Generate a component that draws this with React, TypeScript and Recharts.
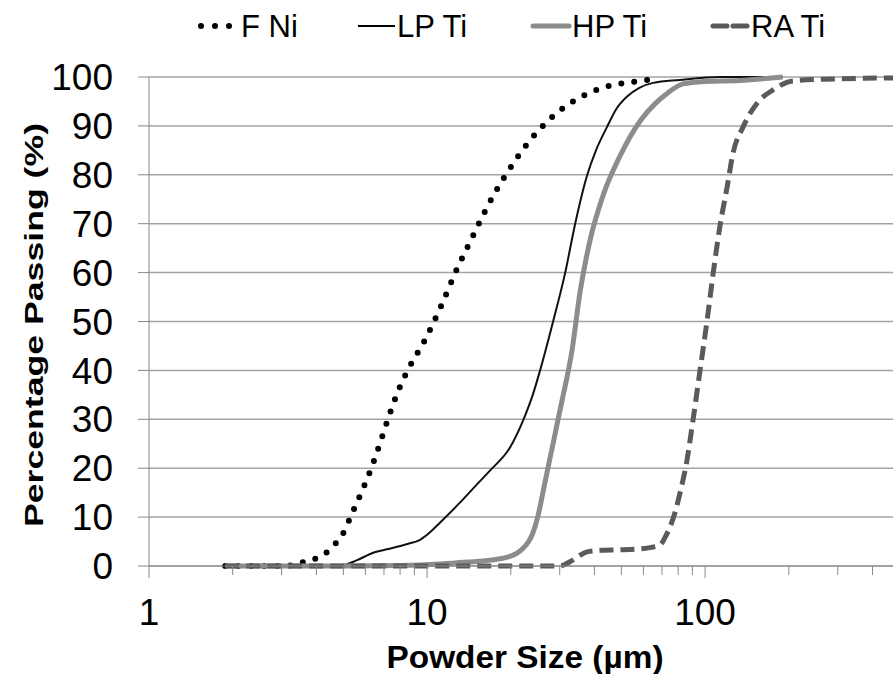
import { LineChart, Line, XAxis, YAxis, CartesianGrid } from "recharts";

// particle size (µm) and cumulative % passing
const fniSize = [1.88, 2.5, 3.0, 3.3, 3.6, 4.0, 4.4, 4.75, 5.07, 5.3, 5.8, 6.3, 6.8, 7.3, 7.9, 8.7, 9.7, 11.2, 12.8, 14.2, 15.6, 17.3, 19.4, 22, 25.5, 29.8, 36, 44, 55, 66];
const fniPassing = [0, 0, 0, 0.2, 0.8, 1.6, 3, 5, 7.4, 10, 15, 20, 25.4, 30.7, 36, 41, 45.6, 53, 60.7, 66, 70.8, 75.7, 80.4, 85, 89.4, 93, 96, 98, 99, 99.6];

const lpSize = [1.88, 4.0, 5.0, 5.6, 6.4, 7.5, 8.5, 9.4, 10.2, 11.1, 13.1, 15, 16.9, 19.9, 22.2, 24, 25.5, 28.4, 31.4, 34.1, 37.6, 40.5, 44.4, 48, 52.4, 58, 65, 81, 113, 190];
const lpPassing = [0, 0, 0.2, 1.2, 2.7, 3.7, 4.5, 5.3, 6.8, 8.8, 12.9, 16.5, 19.6, 24.3, 29.9, 35, 40, 50, 60, 70, 79.8, 85, 89.8, 93.5, 96, 97.8, 98.8, 99.4, 100, 100];

const hpSize = [1.88, 5, 8, 11.1, 14, 16.9, 19.4, 21, 22.2, 23.2, 24, 25, 26.1, 27.2, 28.4, 29.6, 30.9, 33.2, 35.5, 38.6, 43.1, 49.2, 58.4, 66, 73.2, 83.3, 100, 133, 190];
const hpPassing = [0, 0, 0.1, 0.4, 0.8, 1.2, 1.8, 2.6, 3.7, 5, 6.7, 10, 15, 20, 25, 30, 35, 44, 56, 66.7, 76, 83.6, 91, 94.5, 96.7, 98.6, 99.1, 99.3, 100];

const raSize = [1.88, 30, 33, 37.6, 42, 49, 58, 64, 68.9, 72, 74.8, 78, 81.3, 86.1, 90.5, 95.9, 101.7, 107, 113, 120, 126, 137, 154, 176, 207, 289, 474];
const raPassing = [0, 0, 1, 2.9, 3.2, 3.3, 3.5, 3.8, 4.3, 6, 8, 11, 15, 21.7, 29.9, 40, 50.3, 60, 69.4, 77.5, 84.4, 89.8, 94.7, 97.4, 99.2, 99.6, 99.8];

const xTicks = [1, 2, 3, 4, 5, 6, 7, 8, 9, 10, 20, 30, 40, 50, 60, 70, 80, 90, 100, 200, 300, 400];
const xLabels = [1, 10, 100];
const yTicks = [0, 10, 20, 30, 40, 50, 60, 70, 80, 90, 100];

const toPoints = (xs: number[], ys: number[]) => xs.map((x, i) => ({ x, y: ys[i] }));

const FONT = "'Liberation Sans', Arial, sans-serif";
const AXIS = "#888888";

function SizeTick({ x, y, payload }: any) {
  const major = xLabels.includes(payload.value);
  return (
    <g>
      <line x1={x} x2={x} y1={y} y2={y + (major ? 12 : 9)} stroke={AXIS} />
      {major && (
        <text x={x} y={625} textAnchor="middle" fontSize={37} fontFamily={FONT} fill="#000">
          {payload.value}
        </text>
      )}
    </g>
  );
}

function LegendRow() {
  const txt = { fontSize: 31, fontFamily: FONT, fill: "#000" };
  return (
    <svg width={893} height={50} style={{ position: "absolute", left: 0, top: 0 }}>
      <line x1={201} x2={230} y1={26} y2={26} stroke="#000" strokeWidth={6} strokeDasharray="0 14" strokeLinecap="round" />
      <text x={241} y={37} {...txt}>F Ni</text>
      <line x1={358} x2={395} y1={26} y2={26} stroke="#000" strokeWidth={2} />
      <text x={397} y={37} {...txt}>LP Ti</text>
      <line x1={533} x2={569} y1={26} y2={26} stroke="#8c8c8c" strokeWidth={5} strokeLinecap="round" />
      <text x={572} y={37} {...txt}>HP Ti</text>
      <line x1={713} x2={748} y1={26} y2={26} stroke="#5a5a5a" strokeWidth={5} strokeDasharray="14 6" strokeLinecap="round" />
      <text x={751} y={37} {...txt}>RA Ti</text>
    </svg>
  );
}

export default function App() {
  return (
    <div style={{ position: "absolute", left: 0, top: 0, width: 893, height: 674, background: "#fff" }}>
      <LineChart width={893} height={674} margin={{ top: 77, right: 0, bottom: 0, left: 0 }}>
        <CartesianGrid vertical={false} stroke="#a3a3a3" strokeWidth={1.5} />
        <XAxis
          type="number"
          dataKey="x"
          scale="log"
          domain={[1, 474]}
          allowDataOverflow
          ticks={xTicks}
          interval={0}
          height={108}
          axisLine={{ stroke: AXIS }}
          tickLine={false}
          tickSize={0}
          tickMargin={0}
          tick={<SizeTick />}
          label={{
            content: () => (
              <text x={525} y={668} textAnchor="middle" fontSize={31} fontWeight="bold" fontFamily={FONT}
                textLength={277} lengthAdjust="spacingAndGlyphs" fill="#000">
                Powder Size (µm)
              </text>
            ),
          }}
        />
        <YAxis
          type="number"
          domain={[0, 100]}
          ticks={yTicks}
          interval={0}
          width={149}
          axisLine={{ stroke: AXIS }}
          tickLine={{ stroke: AXIS }}
          tickSize={11}
          tickMargin={25}
          tick={{ fontSize: 37, fontFamily: FONT, fill: "#000" }}
          label={{
            content: () => (
              <text x={43} y={325} transform="rotate(-90 43 325)" textAnchor="middle" fontSize={25} fontWeight="bold"
                fontFamily={FONT} textLength={404} lengthAdjust="spacingAndGlyphs" fill="#000">
                Percentage Passing (%)
              </text>
            ),
          }}
        />
        <Line data={toPoints(fniSize, fniPassing)} dataKey="y" type="monotone" stroke="#000" strokeWidth={6}
          strokeDasharray="0 13" strokeLinecap="round" dot={false} activeDot={false} isAnimationActive={false} />
        <Line data={toPoints(lpSize, lpPassing)} dataKey="y" type="monotone" stroke="#111" strokeWidth={2}
          dot={false} activeDot={false} isAnimationActive={false} />
        <Line data={toPoints(hpSize, hpPassing)} dataKey="y" type="monotone" stroke="#8c8c8c" strokeWidth={5}
          dot={false} activeDot={false} isAnimationActive={false} />
        <Line data={toPoints(raSize, raPassing)} dataKey="y" type="monotone" stroke="#5a5a5a" strokeWidth={5}
          strokeDasharray="14 7" dot={false} activeDot={false} isAnimationActive={false} />
      </LineChart>
      <LegendRow />
    </div>
  );
}
